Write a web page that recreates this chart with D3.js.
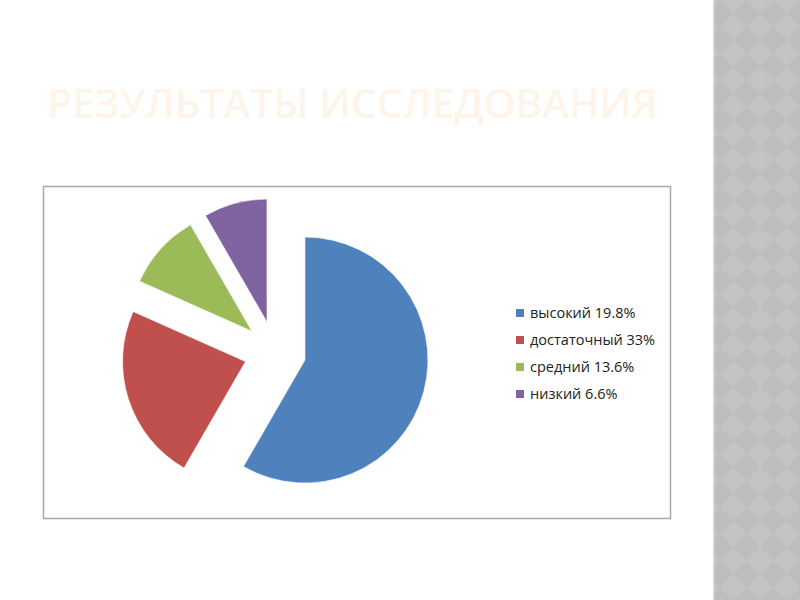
<!DOCTYPE html>
<html><head><meta charset="utf-8">
<script src="https://cdn.jsdelivr.net/npm/d3@7"></script>
<style>html,body{margin:0;padding:0;background:#fff;}svg{display:block;}</style>
</head><body>
<script>
const title = "РЕЗУЛЬТАТЫ ИССЛЕДОВАНИЯ";
const categories = ["высокий 19.8%", "достаточный 33%", "средний 13.6%", "низкий 6.6%"];
const values = [35, 14, 6, 5];
const colors = ["#4F81BD", "#C0504D", "#9BBB59", "#8064A2"];

const W = 800, H = 600;
const svg = d3.select("body").append("svg").attr("width", W).attr("height", H);

// right decorative strip (rotated checkerboard)
const defs = svg.append("defs");
const w = 26.7;
const pat = defs.append("pattern").attr("id", "chk").attr("patternUnits", "userSpaceOnUse")
  .attr("width", w).attr("height", w).attr("x", 720 - w/2).attr("y", 0);
pat.append("rect").attr("width", w).attr("height", w).attr("fill", "#C4C4C4");
pat.append("path").attr("d", `M${w/2},0 L${w},${w/2} L${w/2},${w} L0,${w/2} Z`).attr("fill", "#BDBDBD");
svg.append("rect").attr("x", 713).attr("y", 0).attr("width", 87).attr("height", H).attr("fill", "url(#chk)");
svg.append("rect").attr("x", 713).attr("y", 0).attr("width", 1.5).attr("height", H).attr("fill", "#D8D8D8");

// title
svg.append("text").attr("x", 47).attr("y", 117.5)
  .attr("font-family", "Open Sans").attr("font-weight", 600).attr("font-size", 40.5)
  .attr("fill", "#FDF4EA").text(title);

// chart frame
svg.append("rect").attr("x", 43.5).attr("y", 186.5).attr("width", 627).attr("height", 332)
  .attr("fill", "#fff").attr("stroke", "#A8A8A8").attr("stroke-width", 1.5);

// pie
const cx = 275, cy = 352, R = 123, explode = 31;
const pie = d3.pie().sort(null).value(d => d)(values);
const arc = d3.arc().innerRadius(0).outerRadius(R);
const g = svg.append("g").attr("transform", `translate(${cx},${cy})`);
g.selectAll("path").data(pie).join("path")
  .attr("d", arc)
  .attr("transform", d => {
    const a = (d.startAngle + d.endAngle) / 2;
    return `translate(${explode*Math.sin(a)},${-explode*Math.cos(a)})`;
  })
  .attr("fill", (d, i) => colors[i])
  .attr("stroke", "#fff").attr("stroke-width", 0.6);

// legend
const ly = d3.scalePoint().domain(categories).range([313, 394]);
const leg = svg.append("g");
const item = leg.selectAll("g").data(categories).join("g")
  .attr("transform", d => `translate(516,${ly(d)})`);
item.append("rect").attr("x", 0).attr("y", -4).attr("width", 8).attr("height", 8)
  .attr("fill", (d, i) => colors[i]);
item.append("text").attr("x", 14).attr("y", 5)
  .attr("font-family", "Open Sans").attr("font-size", 14.5).attr("fill", "#222")
  .text(d => d);
</script>
</body></html>
